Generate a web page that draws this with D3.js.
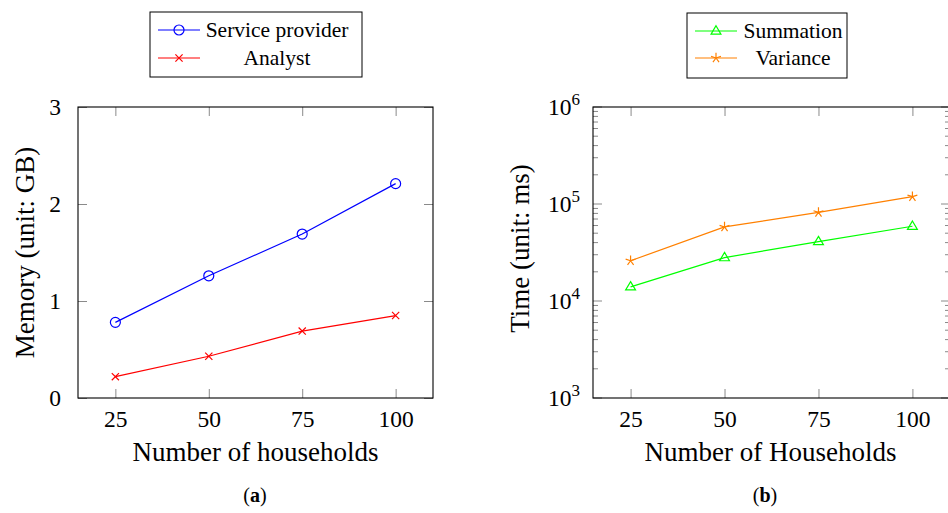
<!DOCTYPE html>
<html>
<head>
<meta charset="utf-8">
<script src="https://cdn.jsdelivr.net/npm/d3@7"></script>
<style>
  html, body { margin: 0; padding: 0; background: #fff; }
  svg { display: block; }
  text { font-family: "Liberation Serif", "DejaVu Serif", serif; fill: #000; }
</style>
</head>
<body>
<svg id="chart" width="948" height="513"></svg>
<script>
// Household counts shared by both panels
const households = [25, 50, 75, 100];

// (a) memory usage in GB
const serviceProvider = [0.78, 1.26, 1.69, 2.21];
const analyst = [0.22, 0.43, 0.69, 0.85];
const memoryTicks = [0, 1, 2, 3];

// (b) running time in ms
const summation = [14000, 28000, 41000, 59000];
const variance = [26000, 58000, 82000, 119000];
const timeTicks = [1e3, 1e4, 1e5, 1e6];
const timeTickExp = ["3", "4", "5", "6"];

const svg = d3.select("#chart");

const plotTop = 107, plotBottom = 398;
const tickColor = "#8a8a8a";
const majorLen = 9, minorLen = 5;
const tickFont = 23.5, labelFont = 27, legendFont = 21.5;

// ---- marker shapes ----
function drawMarker(g, type, x, y, color) {
  if (type === "circle") {
    g.append("circle").attr("cx", x).attr("cy", y).attr("r", 5)
      .attr("fill", "none").attr("stroke", color).attr("stroke-width", 1.2);
  } else if (type === "cross") {
    const s = 3.6;
    g.append("path")
      .attr("d", `M${x - s},${y - s}L${x + s},${y + s}M${x - s},${y + s}L${x + s},${y - s}`)
      .attr("stroke", color).attr("stroke-width", 1.2).attr("fill", "none");
  } else if (type === "triangle") {
    const s = 5.2;
    g.append("path")
      .attr("d", `M${x},${y - s}L${x + s * 0.95},${y + s * 0.6}L${x - s * 0.95},${y + s * 0.6}Z`)
      .attr("stroke", color).attr("stroke-width", 1.2).attr("fill", "none");
  } else if (type === "star") {
    const s = 5.2;
    let d = "";
    for (let i = 0; i < 5; i++) {
      const a = -Math.PI / 2 + i * 2 * Math.PI / 5;
      d += `M${x},${y}L${x + s * Math.cos(a)},${y + s * Math.sin(a)}`;
    }
    g.append("path").attr("d", d)
      .attr("stroke", color).attr("stroke-width", 1.2).attr("fill", "none");
  }
}

function drawSeries(g, xs, ys, vals, color, marker) {
  const line = d3.line().x((d, i) => xs(households[i])).y(d => ys(d));
  g.append("path").datum(vals).attr("d", line)
    .attr("fill", "none").attr("stroke", color).attr("stroke-width", 1.2);
  vals.forEach((v, i) => drawMarker(g, marker, xs(households[i]), ys(v), color));
}

function drawFrame(g, xs, left, right) {
  // bottom + top ticks at each household count
  const ax = g.append("g").attr("transform", `translate(0,${plotBottom})`)
    .call(d3.axisBottom(xs).tickValues(households).tickSize(-majorLen).tickPadding(majorLen + 3));
  ax.select(".domain").remove();
  ax.selectAll("line").attr("stroke", tickColor);
  ax.selectAll("text").attr("font-size", tickFont).attr("font-family", "Liberation Serif");
  const axTop = g.append("g").attr("transform", `translate(0,${plotTop})`)
    .call(d3.axisTop(xs).tickValues(households).tickSize(-majorLen).tickFormat(""));
  axTop.select(".domain").remove();
  axTop.selectAll("line").attr("stroke", tickColor);
  g.append("rect").attr("x", left).attr("y", plotTop)
    .attr("width", right - left).attr("height", plotBottom - plotTop)
    .attr("fill", "none").attr("stroke", "#000").attr("stroke-width", 1.1);
}

// ================= panel (a) =================
{
  const left = 78, right = 433;
  const x = d3.scaleLinear().domain([15, 110]).range([left, right]);
  const y = d3.scaleLinear().domain([0, 3]).range([plotBottom, plotTop]);
  const g = svg.append("g");

  // y ticks on both sides
  const ay = g.append("g").attr("transform", `translate(${left},0)`)
    .call(d3.axisLeft(y).tickValues(memoryTicks).tickSize(-majorLen).tickPadding(majorLen + 8).tickFormat(d3.format("d")));
  ay.select(".domain").remove();
  ay.selectAll("line").attr("stroke", tickColor);
  ay.selectAll("text").attr("font-size", tickFont).attr("font-family", "Liberation Serif");
  const ayR = g.append("g").attr("transform", `translate(${right},0)`)
    .call(d3.axisRight(y).tickValues(memoryTicks).tickSize(-majorLen).tickFormat(""));
  ayR.select(".domain").remove();
  ayR.selectAll("line").attr("stroke", tickColor);

  drawFrame(g, x, left, right);

  drawSeries(g, x, y, serviceProvider, "#0000ff", "circle");
  drawSeries(g, x, y, analyst, "#ff0000", "cross");

  g.append("text").attr("x", (left + right) / 2).attr("y", 461)
    .attr("text-anchor", "middle").attr("font-size", labelFont).text("Number of households");
  g.append("text").attr("transform", `translate(34,${(plotTop + plotBottom) / 2}) rotate(-90)`)
    .attr("text-anchor", "middle").attr("font-size", labelFont).text("Memory (unit: GB)");

  // legend
  const lg = g.append("g");
  lg.append("rect").attr("x", 150).attr("y", 12).attr("width", 212).attr("height", 65)
    .attr("fill", "#fff").attr("stroke", "#000").attr("stroke-width", 1);
  const entries = [["Service provider", "#0000ff", "circle", 30], ["Analyst", "#ff0000", "cross", 58]];
  entries.forEach(([label, color, mk, yy]) => {
    lg.append("line").attr("x1", 158).attr("x2", 200).attr("y1", yy).attr("y2", yy)
      .attr("stroke", color).attr("stroke-width", 1.2);
    drawMarker(lg, mk, 179, yy, color);
    lg.append("text").attr("x", 277).attr("y", yy + 6.5).attr("text-anchor", "middle")
      .attr("font-size", legendFont).text(label);
  });

  const cap = g.append("text").attr("x", 255).attr("y", 502).attr("text-anchor", "middle").attr("font-size", 20);
  cap.append("tspan").text("(");
  cap.append("tspan").attr("font-weight", "bold").text("a");
  cap.append("tspan").text(")");
}

// ================= panel (b) =================
{
  const left = 593, right = 950;
  const x = d3.scaleLinear().domain([15, 110]).range([left, right]);
  const y = d3.scaleLog().domain([1e3, 1e6]).range([plotBottom, plotTop]);
  const g = svg.append("g");

  // minor ticks (2..9 per decade) on both sides
  const minors = y.ticks().filter(v => !timeTicks.includes(v));
  const tickG = g.append("g").attr("stroke", tickColor).attr("stroke-width", 1);
  minors.forEach(v => {
    tickG.append("line").attr("x1", left).attr("x2", left + minorLen).attr("y1", y(v)).attr("y2", y(v));
    tickG.append("line").attr("x1", right).attr("x2", right - minorLen).attr("y1", y(v)).attr("y2", y(v));
  });
  timeTicks.forEach(v => {
    tickG.append("line").attr("x1", left).attr("x2", left + majorLen).attr("y1", y(v)).attr("y2", y(v));
    tickG.append("line").attr("x1", right).attr("x2", right - majorLen).attr("y1", y(v)).attr("y2", y(v));
  });

  // major labels as 10^n
  timeTicks.forEach((v, i) => {
    const t = g.append("text").attr("x", left - 13).attr("y", y(v) + 8)
      .attr("text-anchor", "end").attr("font-size", tickFont);
    t.append("tspan").text("10");
    t.append("tspan").attr("dy", -10).attr("font-size", 17).text(timeTickExp[i]);
  });

  drawFrame(g, x, left, right);

  drawSeries(g, x, y, summation, "#00ff00", "triangle");
  drawSeries(g, x, y, variance, "#ff8000", "star");

  g.append("text").attr("x", (left + right) / 2 - 1).attr("y", 461)
    .attr("text-anchor", "middle").attr("font-size", labelFont).text("Number of Households");
  g.append("text").attr("transform", `translate(529,${(plotTop + plotBottom) / 2 - 4}) rotate(-90)`)
    .attr("text-anchor", "middle").attr("font-size", labelFont).text("Time (unit: ms)");

  // legend
  const lg = g.append("g");
  lg.append("rect").attr("x", 687).attr("y", 13).attr("width", 160).attr("height", 65)
    .attr("fill", "#fff").attr("stroke", "#000").attr("stroke-width", 1);
  const entries = [["Summation", "#00ff00", "triangle", 31], ["Variance", "#ff8000", "star", 58]];
  entries.forEach(([label, color, mk, yy]) => {
    lg.append("line").attr("x1", 695).attr("x2", 737).attr("y1", yy).attr("y2", yy)
      .attr("stroke", color).attr("stroke-width", 1.2);
    drawMarker(lg, mk, 716, yy, color);
    lg.append("text").attr("x", 793).attr("y", yy + 6.5).attr("text-anchor", "middle")
      .attr("font-size", legendFont).text(label);
  });

  const cap = g.append("text").attr("x", 765).attr("y", 502).attr("text-anchor", "middle").attr("font-size", 20);
  cap.append("tspan").text("(");
  cap.append("tspan").attr("font-weight", "bold").text("b");
  cap.append("tspan").text(")");
}
</script>
</body>
</html>
